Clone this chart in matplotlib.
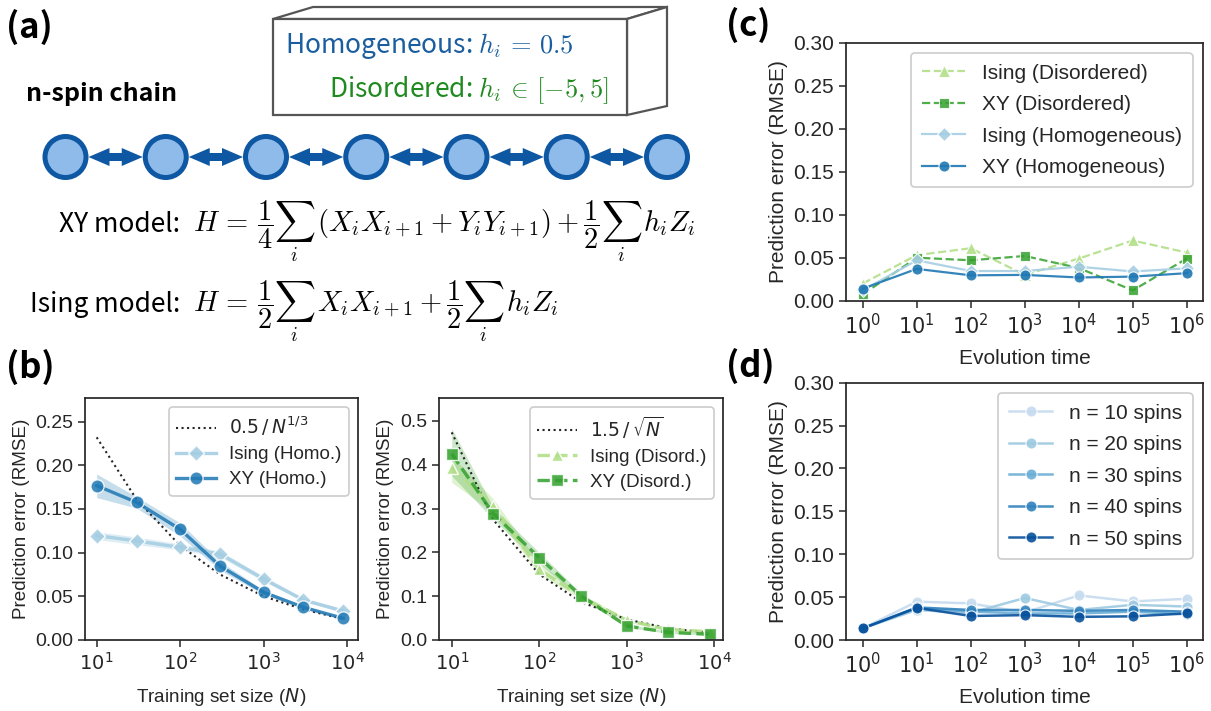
import numpy as np
import matplotlib
matplotlib.use("Agg")
import matplotlib.pyplot as plt
from matplotlib import ticker
from matplotlib.patches import Circle, Polygon

plt.rcParams["font.family"] = ["Liberation Sans", "DejaVu Sans"]
plt.rcParams["mathtext.fontset"] = "dejavusans"
plt.rcParams["axes.edgecolor"] = "#262626"
plt.rcParams["axes.linewidth"] = 1.25
plt.rcParams["xtick.color"] = "#262626"
plt.rcParams["ytick.color"] = "#262626"
plt.rcParams["text.color"] = "#262626"
plt.rcParams["axes.labelcolor"] = "#262626"

W, H = 1211, 711

# ---------------- (b) prediction error vs training set size ----------------
N = [10, 30, 100, 300, 1000, 3000, 9000]
guide_homo = [0.232, 0.161, 0.108, 0.075, 0.050, 0.035, 0.024]      # 0.5 / N^(1/3)
ising_homo = [0.1195, 0.1134, 0.106, 0.0985, 0.0698, 0.0458, 0.0332]
ising_homo_lo = [0.115, 0.109, 0.103, 0.095, 0.067, 0.044, 0.031]
ising_homo_hi = [0.124, 0.118, 0.110, 0.102, 0.073, 0.048, 0.035]
xy_homo = [0.1767, 0.1576, 0.1267, 0.0847, 0.0546, 0.0374, 0.0248]
xy_homo_lo = [0.163, 0.151, 0.119, 0.080, 0.052, 0.036, 0.024]
xy_homo_hi = [0.190, 0.164, 0.134, 0.090, 0.057, 0.039, 0.026]

guide_dis = [0.474, 0.274, 0.150, 0.087, 0.047, 0.027, 0.016]       # 1.5 / sqrt(N)
ising_dis = [0.392, 0.306, 0.161, 0.099, 0.045, 0.024, 0.019]
ising_dis_lo = [0.360, 0.290, 0.150, 0.094, 0.041, 0.020, 0.015]
ising_dis_hi = [0.420, 0.322, 0.176, 0.105, 0.049, 0.027, 0.022]
xy_dis = [0.425, 0.288, 0.188, 0.101, 0.032, 0.0175, 0.013]
xy_dis_lo = [0.375, 0.275, 0.175, 0.095, 0.029, 0.015, 0.011]
xy_dis_hi = [0.483, 0.302, 0.200, 0.107, 0.036, 0.020, 0.016]

# ---------------- (c) prediction error vs evolution time ----------------
t_evo = [1, 10, 100, 1e3, 1e4, 1e5, 1e6]
ising_dis_t = [0.020, 0.053, 0.061, 0.030, 0.049, 0.070, 0.056]
xy_dis_t = [0.0074, 0.050, 0.047, 0.052, 0.038, 0.012, 0.049]
ising_homo_t = [0.012, 0.047, 0.0345, 0.0345, 0.0395, 0.034, 0.0376]
xy_homo_t = [0.014, 0.037, 0.0295, 0.030, 0.027, 0.028, 0.032]

# ---------------- (d) system size ----------------
spins = [10, 20, 30, 40, 50]
err_by_n = [
    [0.0136, 0.0447, 0.0427, 0.032, 0.052, 0.045, 0.048],
    [0.0136, 0.035, 0.0315, 0.049, 0.035, 0.041, 0.039],
    [0.0136, 0.037, 0.033, 0.031, 0.031, 0.033, 0.030],
    [0.0136, 0.038, 0.035, 0.035, 0.034, 0.035, 0.033],
    [0.0136, 0.0375, 0.028, 0.029, 0.027, 0.0276, 0.031],
]

C_ISING_H, C_XY_H = "#a6cee3", "#1f78b4"
C_ISING_D, C_XY_D = "#b2df8a", "#33a02c"
BLUES = ["#c6dbef", "#9ecae1", "#6baed6", "#3182bd", "#08519c"]


def rect(x0, y0, x1, y1):
    """pixel box (top-left, bottom-right) -> figure fraction rect"""
    return [x0 / W, 1 - y1 / H, (x1 - x0) / W, (y1 - y0) / H]


def log_fmt(v, pos):
    return f"$10^{{{int(round(np.log10(v)))}}}$"


def style(ax, tick_fs, lab_fs):
    ax.set_xscale("log")
    ax.xaxis.set_major_formatter(ticker.FuncFormatter(log_fmt))
    ax.xaxis.set_minor_locator(ticker.NullLocator())
    ax.tick_params(axis="both", direction="out", length=5, width=1.1,
                   labelsize=tick_fs, top=False, right=False)
    ax.set_ylabel("Prediction error (RMSE)", fontsize=lab_fs, labelpad=4)


def legend(ax, fs, spacing=0.6, tpad=0.8, bpad=0.5):
    leg = ax.legend(loc="upper right", fontsize=fs, frameon=True, fancybox=True,
                    edgecolor="#cccccc", framealpha=1, labelspacing=spacing,
                    handlelength=2.1, handletextpad=tpad, borderpad=bpad)
    leg.get_frame().set_linewidth(1.2)
    return leg


fig = plt.figure(figsize=(W / 100, H / 100), dpi=100)

# ---------------- (a) schematic, drawn in pixel coordinates ----------------
ov = fig.add_axes([0, 0, 1, 1])
ov.set_xlim(0, W)
ov.set_ylim(H, 0)
ov.axis("off")

CJK = ["Noto Sans CJK KR", "DejaVu Sans"]
for lab, x, y in [("(a)", 6, 27), ("(b)", 6, 367), ("(c)", 726, 25), ("(d)", 726, 366)]:
    ov.text(x, y, lab, fontsize=25, fontweight="bold", family=CJK,
            va="center", ha="left", color="black")
ov.text(26, 94, "n-spin chain", fontsize=18, fontweight="bold", family=CJK,
        va="center", ha="left", color="black")

# 3D box
edge = "#555555"
ov.add_patch(Polygon([(273, 19), (313, 7), (667, 7), (627, 19)], closed=True,
                     fc="white", ec=edge, lw=1.6))
ov.add_patch(Polygon([(627, 19), (667, 7), (667, 106), (627, 115)], closed=True,
                     fc="white", ec=edge, lw=1.6))
ov.add_patch(Polygon([(273, 19), (627, 19), (627, 115), (273, 115)], closed=True,
                     fc="white", ec=edge, lw=1.6))
ov.text(285, 53, r"Homogeneous: $h_i\,=\,0.5$", fontsize=19, family=CJK,
        color="#1b5e9f", va="baseline", math_fontfamily="cm")
ov.text(329, 97, r"Disordered: $h_i\,\in\,[-5, 5]$", fontsize=19, family=CJK,
        color="#1f8a1f", va="baseline", math_fontfamily="cm")

# spin chain
dark, light = "#0e57a2", "#8fbbea"
cy = 157
centers = np.linspace(65.5, 667, 7)
for cx in centers:
    ov.add_patch(Circle((cx, cy), 20.5, fc=light, ec=dark, lw=3.6, zorder=3))
for a, b in zip(centers[:-1], centers[1:]):
    x1, x2 = a + 23, b - 23
    L, hh, sh = 21, 9, 4.0
    pts = [(x1, cy), (x1 + L, cy - hh), (x1 + L, cy - sh), (x2 - L, cy - sh),
           (x2 - L, cy - hh), (x2, cy), (x2 - L, cy + hh), (x2 - L, cy + sh),
           (x1 + L, cy + sh), (x1 + L, cy + hh)]
    ov.add_patch(Polygon(pts, closed=True, fc=dark, ec="none", zorder=2))

# Hamiltonians
xy_eq = (r"$H\,=\,\dfrac{1}{4}\sum_i\,(X_iX_{i+1} + Y_iY_{i+1}) + "
         r"\dfrac{1}{2}\sum_i\,h_iZ_i$")
ising_eq = r"$H\,=\,\dfrac{1}{2}\sum_i\,X_iX_{i+1} + \dfrac{1}{2}\sum_i\,h_iZ_i$"
ov.text(180, 232, "XY model:", fontsize=19, family=CJK, color="black",
        ha="right", va="baseline")
ov.text(193, 232, xy_eq, fontsize=20.5, color="black", ha="left", va="baseline",
        math_fontfamily="cm")
ov.text(180, 312, "Ising model:", fontsize=19, family=CJK, color="black",
        ha="right", va="baseline")
ov.text(193, 312, ising_eq, fontsize=20.5, color="black", ha="left", va="baseline",
        math_fontfamily="cm")

# ---------------- (b) left: homogeneous ----------------
ax1 = fig.add_axes(rect(85, 398, 358, 640))
style(ax1, 14, 13.6)
ax1.plot(N, guide_homo, ":", color="#262626", lw=1.5, label=r"$0.5\,/\,N^{1/3}$")
ax1.fill_between(N, ising_homo_lo, ising_homo_hi, color=C_ISING_H, alpha=0.35, lw=0)
ax1.plot(N, ising_homo, "-D", color=C_ISING_H, lw=2.4, ms=8.5, mec="white", mew=1,
         alpha=0.9, label="Ising (Homo.)")
ax1.fill_between(N, xy_homo_lo, xy_homo_hi, color=C_XY_H, alpha=0.25, lw=0)
ax1.plot(N, xy_homo, "-o", color=C_XY_H, lw=2.4, ms=9.5, mec="white", mew=1,
         alpha=0.85, label="XY (Homo.)")
ax1.set_xlim(10 ** 0.86, 10 ** 4.13)
ax1.set_ylim(0, 0.277)
ax1.yaxis.set_major_locator(ticker.MultipleLocator(0.05))
ax1.yaxis.set_major_formatter(ticker.FormatStrFormatter("%.2f"))
ax1.set_xlabel(r"Training set size ($N$)", fontsize=13.6, labelpad=9)
legend(ax1, 13.5, spacing=0.42, tpad=0.7, bpad=0.4)

# ---------------- (b) right: disordered ----------------
ax2 = fig.add_axes(rect(439, 398, 723, 640))
style(ax2, 14, 13.6)
ax2.plot(N, guide_dis, ":", color="#262626", lw=1.5, label=r"$1.5\,/\,\sqrt{N}$")
ax2.fill_between(N, ising_dis_lo, ising_dis_hi, color=C_ISING_D, alpha=0.4, lw=0)
ax2.plot(N, ising_dis, "--^", color=C_ISING_D, lw=2.4, ms=9, mec="white", mew=1,
         alpha=0.9, label="Ising (Disord.)")
ax2.fill_between(N, xy_dis_lo, xy_dis_hi, color=C_XY_D, alpha=0.25, lw=0)
ax2.plot(N, xy_dis, "--s", color=C_XY_D, lw=2.4, ms=9, mec="white", mew=1,
         alpha=0.85, label="XY (Disord.)")
ax2.set_xlim(10 ** 0.855, 10 ** 4.1)
ax2.set_ylim(0, 0.5525)
ax2.yaxis.set_major_locator(ticker.MultipleLocator(0.1))
ax2.yaxis.set_major_formatter(ticker.FormatStrFormatter("%.1f"))
ax2.set_xlabel(r"Training set size ($N$)", fontsize=13.6, labelpad=9)
legend(ax2, 13.5, spacing=0.42, tpad=0.7, bpad=0.4)

# ---------------- (c) evolution time ----------------
ax3 = fig.add_axes(rect(846, 42.7, 1203, 300.7))
style(ax3, 15, 15)
ax3.plot(t_evo, ising_dis_t, "--^", color=C_ISING_D, lw=1.6, ms=8, mec="white", mew=0.8,
         alpha=0.9, label="Ising (Disordered)")
ax3.plot(t_evo, xy_dis_t, "--s", color=C_XY_D, lw=1.6, ms=7.5, mec="white", mew=0.8,
         alpha=0.85, label="XY (Disordered)")
ax3.plot(t_evo, ising_homo_t, "-D", color=C_ISING_H, lw=1.6, ms=7, mec="white", mew=0.8,
         alpha=0.9, label="Ising (Homogeneous)")
ax3.plot(t_evo, xy_homo_t, "-o", color=C_XY_H, lw=1.6, ms=8, mec="white", mew=0.8,
         alpha=0.9, label="XY (Homogeneous)")
ax3.set_xlim(10 ** -0.31, 10 ** 6.3)
ax3.set_ylim(0, 0.30)
ax3.yaxis.set_major_locator(ticker.MultipleLocator(0.05))
ax3.yaxis.set_major_formatter(ticker.FormatStrFormatter("%.2f"))
ax3.xaxis.set_major_locator(ticker.LogLocator(base=10, numticks=10))
ax3.set_xlabel("Evolution time", fontsize=15, labelpad=8)
legend(ax3, 15)

# ---------------- (d) number of spins ----------------
ax4 = fig.add_axes(rect(846, 382.7, 1203, 640))
style(ax4, 15, 15)
for n, err, col in zip(spins, err_by_n, BLUES):
    ax4.plot(t_evo, err, "-o", color=col, lw=1.8, ms=8, mec="white", mew=0.8,
             alpha=0.9, label=f"n = {n} spins")
ax4.set_xlim(10 ** -0.31, 10 ** 6.3)
ax4.set_ylim(0, 0.30)
ax4.yaxis.set_major_locator(ticker.MultipleLocator(0.05))
ax4.yaxis.set_major_formatter(ticker.FormatStrFormatter("%.2f"))
ax4.xaxis.set_major_locator(ticker.LogLocator(base=10, numticks=10))
ax4.set_xlabel("Evolution time", fontsize=15, labelpad=8)
legend(ax4, 15)

fig.savefig("out.png", dpi=100)
